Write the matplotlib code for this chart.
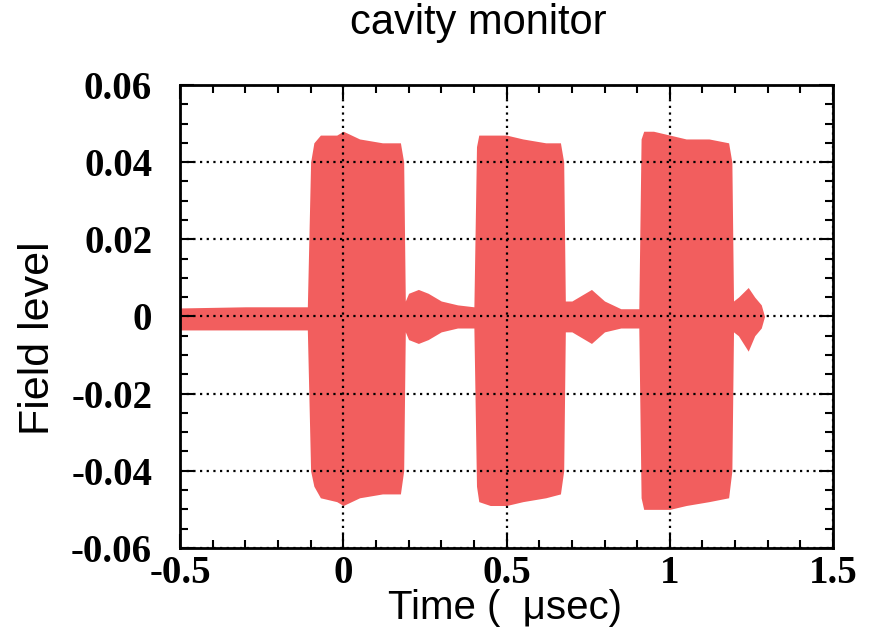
import matplotlib.pyplot as plt
from matplotlib.ticker import MultipleLocator

# envelope of the cavity field, time in usec
t_env = [-0.50, -0.30, -0.11, -0.100, -0.09, -0.07, -0.02, 0.00, 0.05, 0.12, 0.175, 0.185, 0.19,
         0.20, 0.23, 0.26, 0.30, 0.35, 0.40, 0.408, 0.415, 0.45, 0.50, 0.55, 0.62, 0.665, 0.675, 0.68,
         0.70, 0.74, 0.76, 0.80, 0.85, 0.905, 0.912, 0.92, 0.95, 1.00, 1.05, 1.12, 1.18, 1.19, 1.195,
         1.21, 1.24, 1.26, 1.28, 1.29]
upper = [0.0022, 0.0025, 0.0025, 0.040, 0.045, 0.047, 0.047, 0.048, 0.046, 0.045, 0.045, 0.040, 0.004,
         0.006, 0.007, 0.006, 0.004, 0.003, 0.0025, 0.044, 0.047, 0.047, 0.047, 0.046, 0.045, 0.045, 0.040, 0.004,
         0.004, 0.006, 0.007, 0.004, 0.002, 0.002, 0.046, 0.048, 0.048, 0.047, 0.046, 0.046, 0.045, 0.040, 0.004,
         0.005, 0.0075, 0.005, 0.003, 0.0]
lower = [-0.0035, -0.0035, -0.0035, -0.040, -0.044, -0.047, -0.048, -0.049, -0.047, -0.046, -0.046, -0.040, -0.004,
         -0.006, -0.007, -0.006, -0.004, -0.003, -0.003, -0.044, -0.048, -0.049, -0.049, -0.048, -0.047, -0.046, -0.040, -0.004,
         -0.004, -0.006, -0.007, -0.004, -0.003, -0.003, -0.047, -0.050, -0.050, -0.050, -0.049, -0.048, -0.047, -0.040, -0.004,
         -0.005, -0.009, -0.005, -0.003, 0.0]

x_ticks = [-0.5, 0, 0.5, 1, 1.5]
x_labels = ['-0.5', '0', '0.5', '1', '1.5']
y_ticks = [-0.06, -0.04, -0.02, 0, 0.02, 0.04, 0.06]
y_labels = ['-0.06', '-0.04', '-0.02', '0', '0.02', '0.04', '0.06']

fig = plt.figure(figsize=(8.72, 6.32), dpi=100)
ax = fig.add_axes([0.2064, 0.133, 0.749, 0.7326])

ax.fill_between(t_env, lower, upper, color='#f25e5e', linewidth=0, zorder=1)

ax.set_xlim(-0.5, 1.5)
ax.set_ylim(-0.06, 0.06)
ax.set_xticks(x_ticks)
ax.set_xticklabels(x_labels)
ax.set_yticks(y_ticks)
ax.set_yticklabels(y_labels)
ax.xaxis.set_minor_locator(MultipleLocator(0.1))
ax.yaxis.set_minor_locator(MultipleLocator(0.005))

ax.grid(True, which='major', color='black', linestyle=(0, (1, 2)), linewidth=1.6, zorder=2)
ax.set_axisbelow(False)

ax.tick_params(which='both', direction='in', top=True, right=True, width=1.5, colors='black')
ax.tick_params(which='major', length=10)
ax.tick_params(which='minor', length=6)
ax.tick_params(axis='x', which='major', pad=5)
ax.tick_params(axis='y', which='major', pad=20)
for lab in ax.get_xticklabels() + ax.get_yticklabels():
    lab.set_fontfamily('Liberation Serif')
    lab.set_fontweight('bold')
    lab.set_fontsize(28)

for s in ax.spines.values():
    s.set_linewidth(2)

fig.text(0.548, 0.963, 'cavity monitor', ha='center', va='center',
         fontfamily='Liberation Sans', fontsize=30)
fig.text(0.579, 0.038, 'Time (  \u03bcsec)', ha='center', va='center',
         fontfamily='Liberation Sans', fontsize=29)
fig.text(0.044, 0.465, 'Field level', ha='center', va='center', rotation=90,
         fontfamily='Liberation Sans', fontsize=31)

fig.savefig('out.png', dpi=100)
